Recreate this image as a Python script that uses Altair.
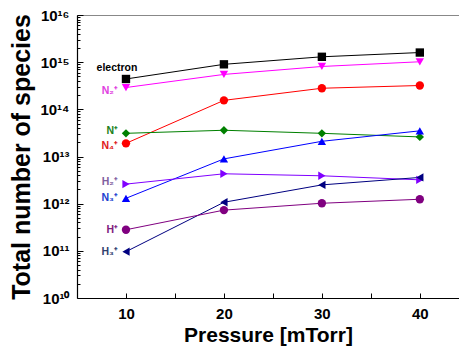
import altair as alt
import pandas as pd

pressure = [10, 20, 30, 40]
species = ["electron", "N2+", "N4+", "N+", "N3+", "H2+", "H3+", "H+"]
labels = ["electron", "N₂⁺", "N₄⁺", "N⁺", "N₃⁺", "H₂⁺", "H₃⁺", "H⁺"]
electron = [4.4e14, 9.0e14, 1.3e15, 1.6e15]
n2p = [2.9e14, 5.5e14, 8.1e14, 1.02e15]
n4p = [1.9e13, 1.55e14, 2.8e14, 3.2e14]
n1p = [3.1e13, 3.6e13, 3.1e13, 2.6e13]
n3p = [1.3e12, 8.9e12, 2.1e13, 3.5e13]
h2p = [2.6e12, 4.3e12, 3.9e12, 3.2e12]
h3p = [9.6e10, 1.07e12, 2.5e12, 3.6e12]
h1p = [2.8e11, 7.3e11, 1.02e12, 1.24e12]
series = [electron, n2p, n4p, n1p, n3p, h2p, h3p, h1p]

line_colors = ["#000000", "#FF00FF", "#FF0000", "#008000", "#0000FF", "#8000FF", "#000080", "#800080"]
marker_colors = ["#000000", "#FF00FF", "#FF0000", "#008000", "#0000FF", "#8000FF", "#000080", "#800080"]
label_colors = ["#000000", "#E040E0", "#E02020", "#208020", "#2040D0", "#8060A0", "#304070", "#802080"]
shapes = ["square", "triangle-down", "circle", "diamond", "triangle-up", "triangle-right", "triangle-left", "circle"]
# label offsets (style): (dx, dy, align)
label_offsets = {
    "electron": (-9, -11, "center"),
    "N2+": (-8, 3, "right"),
    "N4+": (-8, 3, "right"),
    "N+": (-8, -2, "right"),
    "N3+": (-8, 0, "right"),
    "H2+": (-8, -2, "right"),
    "H3+": (-8, 0, "right"),
    "H+": (-8, 0, "right"),
}

y_major = [1e10, 1e11, 1e12, 1e13, 1e14, 1e15, 1e16]
y_minor = [m * 10 ** e for e in range(10, 16) for m in range(2, 10)]
x_ticks = [10, 15, 20, 25, 30, 35, 40]

rows = []
for sp, lab, vals in zip(species, labels, series):
    for p, v in zip(pressure, vals):
        rows.append({"species": sp, "label": lab, "pressure": p, "value": v})
df = pd.DataFrame(rows)
first = df[df["pressure"] == pressure[0]]

W, H = 382, 283
FONT = "Liberation Sans"

xs = alt.Scale(domain=[5, 44], nice=False, zero=False)
ys = alt.Scale(type="log", domain=[1e10, 1e16], nice=False)

base = alt.Chart(df)
X = alt.X("pressure:Q", scale=xs, axis=None)
Y = alt.Y("value:Q", scale=ys, axis=None)

lines = base.mark_line(strokeWidth=1).encode(
    x=X, y=Y, detail="species:N",
    stroke=alt.Stroke("species:N", scale=alt.Scale(domain=species, range=line_colors), legend=None),
)
points = base.mark_point(filled=True, size=70, opacity=1).encode(
    x=X, y=Y,
    fill=alt.Fill("species:N", scale=alt.Scale(domain=species, range=marker_colors), legend=None),
    shape=alt.Shape("species:N", scale=alt.Scale(domain=species, range=shapes), legend=None),
)
lab_color = alt.Color("species:N", scale=alt.Scale(domain=species, range=label_colors), legend=None)
label_layers = []
for sp in species:
    dx, dy, al = label_offsets[sp]
    label_layers.append(
        alt.Chart(first[first["species"] == sp]).mark_text(
            font=FONT, fontSize=10.5, fontWeight="bold", dx=dx, dy=dy, align=al, baseline="middle"
        ).encode(x=X, y=Y, text="label:N", color=lab_color)
    )

axes_main = base.mark_point(opacity=0).encode(
    x=alt.X("pressure:Q", scale=xs, axis=alt.Axis(
        orient="bottom", values=pressure, ticks=False, grid=False, domainColor="#000", domainWidth=1.2,
        labelFont=FONT, labelFontSize=15, labelFontWeight="bold", labelColor="#000", labelPadding=8,
        title="Pressure [mTorr]", titleFont=FONT, titleFontSize=21, titleFontWeight="bold",
        titleColor="#000", titlePadding=3)),
    y=alt.Y("value:Q", scale=ys, axis=alt.Axis(
        orient="left", values=y_major, ticks=False, grid=False, domainColor="#000", domainWidth=1.2,
        labelExpr="['10¹⁰','10¹¹','10¹²','10¹³','10¹⁴','10¹⁵','10¹⁶'][round(log(datum.value)/LN10)-10]",
        labelFont=FONT, labelFontSize=15, labelFontWeight="bold", labelColor="#000", labelPadding=8,
        title="Total number of species", titleFont=FONT, titleFontSize=25, titleFontWeight="bold",
        titleColor="#000", titlePadding=5)),
)
axes_major = base.mark_point(opacity=0).encode(
    x=alt.X("pressure:Q", scale=xs, axis=alt.Axis(
        orient="top", offset=-H, values=x_ticks, labels=False, domain=False, grid=False,
        tickSize=5, tickColor="#000", title=None)),
    y=alt.Y("value:Q", scale=ys, axis=alt.Axis(
        orient="right", offset=-W, values=y_major, labels=False, domain=False, grid=False,
        tickSize=6, tickColor="#000", title=None)),
)
axes_minor = base.mark_point(opacity=0).encode(
    x=alt.X("pressure:Q", scale=xs, axis=alt.Axis(
        orient="top", ticks=False, labels=False, grid=False, domainColor="#888", domainWidth=1.2,
        title=None)),
    y=alt.Y("value:Q", scale=ys, axis=alt.Axis(
        orient="right", offset=-W, values=y_minor, labels=False, domain=False, grid=False,
        tickSize=3, tickColor="#000", title=None)),
)

chart = alt.layer(axes_main, axes_major, axes_minor, lines, points, *label_layers).resolve_axis(
    x="independent", y="independent"
).resolve_scale(x="shared", y="shared").properties(
    width=W, height=H, autosize=alt.AutoSizeParams(type="none"),
    padding={"left": 69, "top": 7, "right": 0, "bottom": 49},
).configure_view(strokeWidth=0).configure(background="white")

chart.save("out.html", embed_options={"renderer": "svg", "actions": False})
